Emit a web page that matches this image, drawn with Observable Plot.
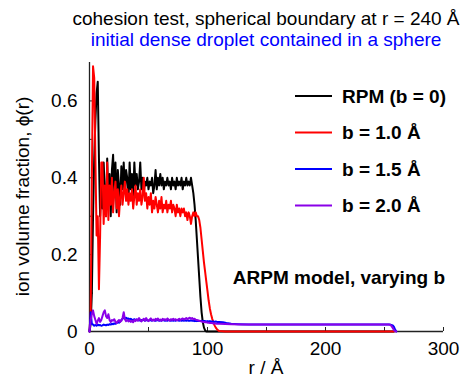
<!DOCTYPE html>
<html><head><meta charset="utf-8">
<script src="https://cdn.jsdelivr.net/npm/d3@7"></script>
<script src="https://cdn.jsdelivr.net/npm/@observablehq/plot@0.6"></script>
<style>
body{margin:0;background:#fff;}
#chart{width:463px;height:379px;}
</style>
</head><body><div id="chart"></div>
<script>
// ---- data ----
const title = "cohesion test, spherical boundary at r = 240 Å";
const subtitle = "initial dense droplet contained in a sphere";
const xLabel = "r / Å";
const yLabel = "ion volume fraction, ϕ(r)";
const note = "ARPM model, varying b";
const seriesNames = ["RPM (b = 0)", "b = 1.0 Å", "b = 1.5 Å", "b = 2.0 Å"];
const seriesColors = ["#000000", "#ff0000", "#0000ff", "#8a00e8"];
const xTicks = [0, 100, 200, 300];
const yTicks = [0, 0.2, 0.4, 0.6];
const xMinorTicks = [0, 50, 100, 150, 200, 250, 300];
const yMinorTicks = [0, 0.1, 0.2, 0.3, 0.4, 0.5, 0.6];

// radial grid for the dense part (r = 0..110 Å, 1 Å step)
const rDense = d3.range(0, 111);

const rpm = [
0.0,0.02,0.10,0.30,0.45,0.55,0.62,0.65,0.45,0.30,
0.38,0.32,0.44,0.36,0.30,0.45,0.33,0.41,0.30,0.42,
0.46,0.36,0.44,0.31,0.42,0.38,0.33,0.43,0.37,0.44,
0.36,0.42,0.40,0.34,0.44,0.37,0.41,0.35,0.44,0.38,
0.41,0.37,0.39,0.44,0.37,0.40,0.36,0.39,0.38,0.40,
0.37,0.39,0.38,0.40,0.36,0.38,0.42,0.37,0.40,0.38,
0.41,0.38,0.40,0.37,0.39,0.38,0.40,0.38,0.39,0.37,
0.40,0.38,0.39,0.37,0.40,0.38,0.39,0.38,0.40,0.37,
0.39,0.38,0.40,0.38,0.39,0.38,0.40,0.38,0.36,0.33,
0.29,0.24,0.19,0.14,0.09,0.05,0.025,0.01,0.003,0.0,
0,0,0,0,0,0,0,0,0,0,0];
const rpmTail = [[150, 0], [258, 0]];

const b10 = [
0.0,0.05,0.40,0.69,0.66,0.45,0.25,0.30,0.11,0.25,
0.44,0.44,0.28,0.38,0.30,0.44,0.29,0.38,0.33,0.40,
0.31,0.36,0.39,0.32,0.37,0.30,0.35,0.38,0.33,0.36,
0.39,0.34,0.37,0.33,0.36,0.34,0.37,0.32,0.35,0.38,
0.33,0.36,0.34,0.37,0.33,0.35,0.40,0.34,0.36,0.32,
0.35,0.33,0.36,0.31,0.34,0.32,0.35,0.33,0.31,0.34,
0.32,0.35,0.31,0.33,0.32,0.34,0.31,0.33,0.32,0.34,
0.31,0.33,0.32,0.30,0.33,0.31,0.32,0.30,0.32,0.31,
0.32,0.30,0.31,0.29,0.31,0.30,0.28,0.30,0.31,0.30,
0.31,0.30,0.30,0.29,0.27,0.24,0.21,0.18,0.155,0.13,
0.105,0.08,0.06,0.045,0.033,0.024,0.016,0.01,0.006,0.003,0.001];
const b10Tail = [[115, 0], [258, 0]];

const b15 = [
0.0,0.05,0.02,0.018,0.015,0.017,0.015,0.018,0.016,0.017,
0.015,0.016,0.018,0.017,0.016,0.018,0.017,0.019,0.018,0.020,
0.019,0.021,0.020,0.022,0.024,0.023,0.026,0.030,0.033,0.036,
0.034,0.036,0.033,0.034,0.031,0.033,0.031,0.030,0.032,0.030,
0.031,0.029,0.030,0.028,0.030,0.029,0.031,0.028,0.030,0.029,
0.028,0.030,0.029,0.028,0.030,0.029,0.028,0.029,0.030,0.028,
0.029,0.028,0.030,0.029,0.028,0.029,0.028,0.030,0.029,0.028,
0.029,0.028,0.029,0.028,0.030,0.029,0.028,0.029,0.028,0.029,
0.028,0.029,0.028,0.029,0.028,0.028,0.029,0.028,0.028,0.027,
0.028,0.027,0.028,0.027,0.027,0.028,0.027,0.027,0.027,0.026,
0.027,0.026,0.027,0.026,0.026,0.026,0.025,0.026,0.025,0.025,0.025];
const b15Tail = [[113, 0.024], [116, 0.022], [120, 0.020], [126, 0.019], [135, 0.018],
  [200, 0.018], [255, 0.018], [257, 0.016], [258, 0.012], [259, 0.005], [260, 0]];

const b20 = [
0.0,0.03,0.045,0.055,0.04,0.03,0.02,0.028,0.035,0.025,
0.03,0.04,0.05,0.055,0.04,0.035,0.045,0.03,0.025,0.03,
0.028,0.032,0.025,0.022,0.027,0.03,0.025,0.028,0.035,0.05,
0.032,0.027,0.03,0.026,0.029,0.025,0.028,0.024,0.03,0.027,
0.032,0.028,0.035,0.03,0.026,0.03,0.033,0.028,0.035,0.03,
0.027,0.031,0.034,0.029,0.031,0.028,0.033,0.03,0.034,0.029,
0.031,0.028,0.033,0.03,0.032,0.029,0.034,0.031,0.028,0.032,
0.03,0.033,0.03,0.032,0.029,0.031,0.033,0.03,0.032,0.034,
0.031,0.033,0.035,0.032,0.034,0.036,0.033,0.035,0.032,0.033,
0.031,0.03,0.029,0.028,0.027,0.026,0.025,0.025,0.024,0.024,
0.023,0.023,0.022,0.022,0.022,0.021,0.021,0.021,0.02,0.02,0.02];
const b20Tail = [[120, 0.019], [130, 0.018], [200, 0.018], [254, 0.018], [255, 0.017],
  [256, 0.014], [257, 0.009], [258, 0.004], [259, 0.001], [260, 0]];

// ---- build tables ----
function table(vals, tail) {
  return rDense.map((r, i) => ({r, v: vals[i]})).concat(tail.map(([r, v]) => ({r, v})));
}
const tables = [table(rpm, rpmTail), table(b10, b10Tail), table(b15, b15Tail), table(b20, b20Tail)];

const font = "'Liberation Sans', Arial, sans-serif";
const W = 463, H = 379;
const M = {left: 89, right: 20, top: 62, bottom: 48};

const plot = Plot.plot({
  width: W, height: H,
  marginLeft: M.left, marginRight: M.right, marginTop: M.top, marginBottom: M.bottom,
  style: {fontFamily: font, fontSize: "19px", background: "#fff", color: "#000"},
  x: {domain: [0, 300]},
  y: {domain: [0, 0.7]},
  marks: [
    Plot.axisX({ticks: xMinorTicks, tickSize: -4, fill: "none", label: null, stroke: "#222"}),
    Plot.axisY({ticks: yMinorTicks, tickSize: -4, fill: "none", label: null, stroke: "#222"}),
    Plot.axisX({ticks: xTicks, tickSize: 0, tickPadding: 10, label: null, fontSize: 19}),
    Plot.axisY({ticks: yTicks, tickSize: 0, tickPadding: 12, label: null, fontSize: 19,
      tickFormat: d => d === 0 ? "0" : d3.format(".1f")(d)}),
    Plot.ruleX([0], {stroke: "#222", strokeWidth: 1.3}),
    Plot.ruleY([0], {stroke: "#222", strokeWidth: 1.3}),
    ...tables.map((t, i) => Plot.line(t, {x: "r", y: "v", stroke: seriesColors[i], strokeWidth: 2, curve: "linear"}))
  ]
});

document.getElementById("chart").appendChild(plot);

// ---- annotations (titles, axis labels, legend) ----
const svg = d3.select(plot);
const cx = (M.left + (W - M.right)) / 2;
const cy = (M.top + (H - M.bottom)) / 2;
const g = svg.append("g").style("font-family", font).style("font-size", "19px");

g.append("text").attr("x", cx).attr("y", 25).attr("text-anchor", "middle").attr("fill", "#000").text(title);
g.append("text").attr("x", cx).attr("y", 45.5).attr("text-anchor", "middle").attr("fill", "#0000ff").text(subtitle);
g.append("text").attr("x", cx).attr("y", 374).attr("text-anchor", "middle").attr("fill", "#000").text(xLabel);
g.append("text").attr("transform", `translate(22,${cy}) rotate(-90)`).attr("text-anchor", "middle")
  .attr("dominant-baseline", "central").attr("fill", "#000").text(yLabel);

const leg = g.append("g").style("font-weight", "bold");
seriesNames.forEach((name, i) => {
  const y = 96 + i * 36.5;
  leg.append("line").attr("x1", 295).attr("x2", 332).attr("y1", y).attr("y2", y)
    .attr("stroke", seriesColors[i]).attr("stroke-width", 2);
  leg.append("text").attr("x", 342).attr("y", y).attr("dy", "0.36em")
    .attr("text-anchor", "start").attr("fill", "#000").text(name);
});
g.append("text").attr("x", 445).attr("y", 277).attr("dy", "0.36em").attr("text-anchor", "end")
  .style("font-weight", "bold").attr("fill", "#000").text(note);
</script>
</body></html>
